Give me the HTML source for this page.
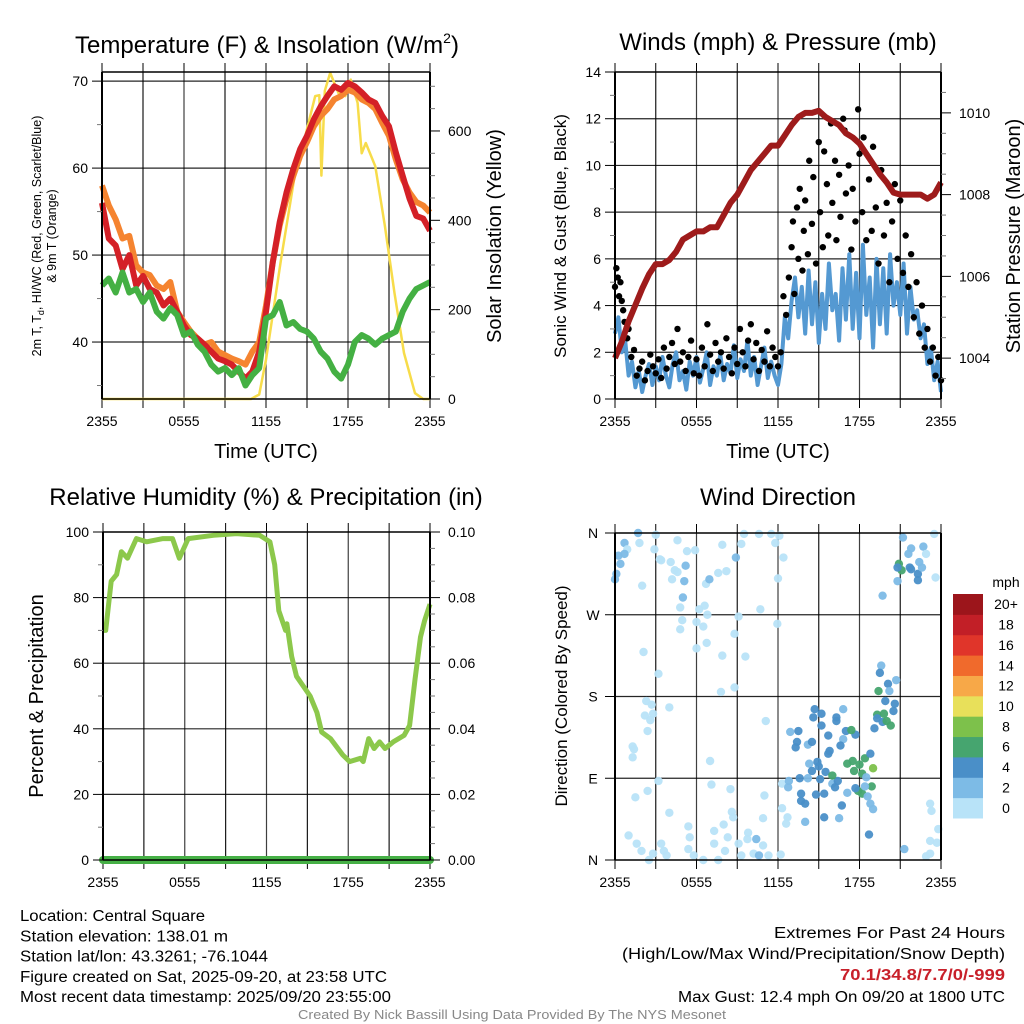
<!DOCTYPE html>
<html><head><meta charset="utf-8"><style>
html,body{margin:0;padding:0;background:#fff;}
svg{display:block;font-family:"Liberation Sans",sans-serif;}
</style></head><body>
<svg id="fig" width="1024" height="1024" viewBox="0 0 1024 1024" xmlns="http://www.w3.org/2000/svg"></svg>
<script>
// ---------- DATA ----------
const xTickLabels = ["2355","0555","1155","1755","2355"];
// Temperature panel (half-hourly, hours since 2355)
const tempRed = [56,51.9,51.1,48.4,50,46.5,47.6,46.1,45.7,44.2,45,43.5,41.9,40.8,40.4,39.7,38.9,38.1,37.8,37.4,36.6,35.8,36.6,38.9,43.5,49.2,53.8,57.2,59.9,62.2,63.7,65.6,67.1,68.3,69.4,69,69.8,69.4,68.7,67.9,67.5,66,64.8,61.8,59.1,56.5,54.5,54.2,52.8];
const tempOrange = [58,55.7,54.1,51.9,52.2,48.8,48,47.7,46.5,46.1,46.9,43.5,42.3,41.2,40.4,39.7,40,38.9,38.5,38.1,37.8,37.4,38.9,40,44.2,49.2,53.4,56.5,59.1,61.4,63,64.8,66,66.8,67.9,68.3,69,68.7,67.9,67.5,66.8,65.2,63.7,61,58.7,57.2,56.1,55.7,54.9];
const dewGreen = [46.5,47.3,45.7,48,45.7,46.1,44.6,45.7,43.5,42.7,43.9,43.1,40.8,41.2,39.7,38.9,37.4,36.6,37,36.2,37,35,36.2,37,42.7,43.1,44.6,41.9,42.3,41.5,41.2,40.4,38.9,38.1,36.6,35.8,37.4,40,40.8,40.4,39.7,40.4,40.8,41.2,43.5,45,46.1,46.5,46.9];
const solarHours = [0,10.9,11.5,12,13.1,14.1,14.8,15.6,15.9,16.05,16.3,16.7,17.3,17.8,18.2,18.7,19,19.3,20,20.7,21.4,22.1,22.9,23.5,24];
const solarWatts = [0,0,10,88,312,500,580,678,680,500,690,730,685,678,715,663,550,573,521,387,237,103,13,0,0];
// Winds panel
const windSpeed = [2.8,3.5,2.0,2.5,1.0,1.6,0.5,1.2,0.3,1.0,1.5,0.6,1.4,0.8,1.8,1.0,0.5,1.5,2.0,0.8,1.2,0.4,1.6,1.0,1.8,0.7,1.3,2.0,0.6,1.4,1.0,1.9,0.8,1.5,1.1,2.3,0.9,1.7,1.2,2.5,1.0,1.8,0.6,1.4,2.2,0.9,1.6,1.0,0.6,
1.5,3.5,2.6,4.2,5.2,3.5,4.8,2.8,5.5,3.2,5.0,2.4,4.5,3.0,5.8,3.8,4.5,2.5,5.6,3.4,6.2,3.0,5.4,2.6,6.6,3.6,5.2,2.2,6.0,3.2,5.6,2.8,6.2,4.0,5.0,3.6,5.8,2.8,4.8,3.4,3.8,2.6,3.2,1.5,2.2,0.8,1.6,0.3];
const gustHours = [0,0.1,0.2,0.3,0.4,0.5,0.6,0.7,0.9,1.0,1.2,1.4,1.6,1.8,2.0,2.2,2.4,2.6,2.8,3.0,3.2,3.4,3.6,3.8,4.0,4.2,4.4,4.6,4.8,5.0,5.2,5.4,5.6,5.8,6.0,6.2,6.4,6.6,6.8,7.0,7.2,7.4,7.6,7.8,8.0,8.2,8.4,8.6,8.8,9.0,9.2,9.4,9.6,9.8,10.0,10.2,10.4,10.6,10.8,11.0,11.2,11.4,11.6,11.8,12.0,12.2,12.4,12.6,12.8,13.0,13.1,13.2,13.4,13.5,13.6,13.8,13.9,14.0,14.2,14.3,14.5,14.6,14.8,15.0,15.1,15.3,15.4,15.6,15.7,15.9,16.0,16.2,16.3,16.5,16.6,16.8,16.9,17.0,17.2,17.4,17.5,17.7,17.9,18.0,18.2,18.3,18.5,18.7,18.9,19.0,19.2,19.4,19.6,19.8,20.0,20.2,20.4,20.6,20.8,21.0,21.2,21.4,21.6,21.8,22.0,22.2,22.4,22.6,22.8,23.0,23.2,23.4,23.6,23.8,24.0];
const gustSpeed = [4.8,5.6,5.2,4.4,5.0,4.2,3.8,3.3,2.6,3.0,1.8,2.1,1.0,1.3,1.6,0.8,1.2,1.9,1.4,1.1,1.7,0.9,2.2,1.3,1.8,2.4,1.5,3.0,1.6,2.0,1.2,1.8,2.5,1.1,1.7,1.0,2.2,1.4,3.2,1.9,1.2,2.4,1.6,2.0,1.3,2.6,1.8,1.1,2.2,1.5,3.0,2.0,1.4,2.5,3.2,1.7,2.4,1.2,2.1,1.6,2.9,1.4,2.2,1.8,1.4,2.0,4.4,3.6,5.2,6.5,7.6,4.5,8.2,6.0,9.0,5.5,7.2,8.5,6.2,10.2,7.5,9.5,5.8,11.0,8.0,6.5,10.6,9.2,7.0,11.8,8.4,10.2,6.8,9.6,7.8,12.0,11.5,8.8,10.0,6.4,9.0,7.6,12.4,10.5,8.0,11.2,6.8,9.4,7.2,10.8,8.2,5.8,9.8,7.0,8.4,5.0,7.6,9.2,6.0,8.5,5.4,7.0,4.8,6.2,3.5,5.0,2.8,4.0,2.2,3.0,1.6,2.2,1.0,1.8,0.8];
const pressure = [1004.0,1004.4,1004.9,1005.3,1005.7,1006.05,1006.3,1006.3,1006.4,1006.6,1006.9,1007.0,1007.1,1007.1,1007.2,1007.2,1007.5,1007.8,1008.0,1008.3,1008.6,1008.8,1009.0,1009.2,1009.2,1009.45,1009.7,1009.9,1010.0,1010.0,1010.05,1009.9,1009.8,1009.7,1009.5,1009.4,1009.25,1009.0,1008.75,1008.5,1008.3,1008.05,1008.0,1008.0,1008.0,1008.0,1007.9,1008.0,1008.3];
// RH panel
const rhHours = [0,0.2,0.6,1.0,1.35,1.8,2.45,3.2,4.4,5.1,5.6,6.25,8.1,9.8,11.5,12.25,12.6,12.9,13.4,13.5,13.85,14.2,15.2,15.7,16.05,16.7,17.6,18.1,18.9,19.1,19.5,19.9,20.3,20.7,21.3,22.1,22.5,22.9,23.3,23.6,24];
const rhValues = [70,70,85,87,94,92,98,97,98,98,92,98,99,99.5,99,97,90,76,70,72,62,56,50,45,39,37,32,30,31,30,37,34,36,34,36,38,41,55,68,73,78];
const precipHours = [0,24];
const precipValues = [0,0];
// Wind direction panel: [hours, degrees, mph]
const dirHours = [1.7,3.0,0.7,1.8,0.9,0.25,0.7,0.4,0.1,0,2.0,2.9,3.3,3.4,4.1,4.6,5.3,5.9,5.2,4.4,4.6,4.2,5.1,5.0,4.8,4.95,4.8,6.2,6.6,6.8,6.0,6.5,6.7,6.95,7.6,8.2,7.9,8.9,9.3,9.5,10.6,11.5,11.8,12.1,12.4,12.0,10.7,9.1,11.95,8.8,6.75,6.0,7.9,9.6,2.1,3.2,7.8,8.8,
2.3,2.7,4.0,2.2,2.8,2.6,2.4,1.3,1.4,1.3,11.1,7.0,
3.2,2.4,1.5,4.0,7.1,8.5,11.0,8.6,8.7,10.9,5.4,1.0,1.6,1.95,2.5,2.8,3.4,3.6,3.8,5.5,5.4,5.8,6.5,7.3,7.3,8.0,8.3,7.6,8.1,9.1,9.8,9.75,10.4,10.2,10.9,11.3,9.3,10.6,12.2,12.3,12.8,12.75,12.3,12.7,12.6,14.0,
12.9,13.5,13.4,13.3,14.2,14.5,14.7,14.6,15.2,15.2,13.6,14.2,14.3,14.9,15.0,14.5,15.1,15.5,13.7,13.7,14.0,14.8,15.4,15.7,16.3,16.3,16.8,16.8,16.6,15.7,15.8,17.0,17.7,17.4,16.0,16.2,16.4,16.0,17.1,17.5,17.6,18.0,18.2,18.4,18.8,18.5,19.0,18.9,17.9,18.2,17.7,17.1,18.4,18.6,18.8,19.0,16.7,15.4,16.5,18.7,
19.6,19.5,20.1,20.7,19.4,20.2,19.9,20.6,20.5,19.3,19.8,19.3,19.7,20.0,20.3,19.1,
21.2,21.8,21.6,20.9,21.1,20.8,21.7,21.8,22.3,22.3,22.4,22.6,22.7,22.9,20.8,19.7,23.5,23.6,
23.2,23.3,23.8,23.2,23.7,23.2,22.9,21.3];
const dirDegrees = [360,358,349,349,342,335,337,326,315,309,302,342,331,330,328,352,340,341,324,319,317,309,307,289,278,264,254,276,280,270,262,257,304,309,316,318,347,333,348,359,359,359,349,357,333,310,276,268,260,249,239,233,225,224,229,205,185,190,
175,171,168,159,161,154,142,125,122,113,153,109,
87,76,69,52,83,78,71,53,47,46,37,27,18,10,0,7,18,10,5,25,12,5,0,32,18,39,25,0,10,18,30,23,23,7,16,5,5,5,6,84,87,80,57,47,40,42,
141,142,130,124,127,130,166,157,161,148,90,90,106,108,103,98,89,97,73,65,62,72,73,137,157,153,166,133,126,117,120,142,138,143,84,80,87,93,106,109,98,105,95,112,117,91,101,81,76,73,79,74,81,70,62,56,60,47,46,28,
214,206,194,198,186,186,175,172,164,160,161,156,152,153,148,145,
355,343,337,326,319,322,322,320,315,308,328,322,345,337,307,291,359,311,
62,54,34,21,19,7,4,12];
const dirSpeed = [3,1,3,1,1,3,3,3,3,3,1,1,1,1,1,1,1,1,3,1,1,1,3,3,1,1,1,1,1,1,1,1,1,3,1,1,1,3,1,1,1,1,1,1,1,1,1,1,1,1,1,1,1,1,1,1,1,1,
1,1,1,1,1,1,1,1,1,1,1,1,
1,1,1,1,1,1,1,1,1,1,1,1,1,1,1,1,1,1,1,1,1,1,1,1,1,1,1,1,1,1,1,1,3,1,1,1,1,3,1,1,3,3,1,1,1,3,
3,5,5,5,3,5,5,5,5,5,5,3,3,5,5,5,5,5,5,5,5,5,5,5,5,5,3,3,5,5,5,5,5,7,3,5,5,7,7,7,7,7,7,7,5,3,8,7,7,7,5,3,3,3,3,3,5,5,3,5,
3,5,5,3,7,3,5,5,5,7,7,5,5,7,7,5,
3,3,3,7,7,5,5,5,5,5,3,3,3,1,3,3,1,1,
1,1,1,1,1,1,1,3];
const cbarLabels = ["0","2","4","6","8","10","12","14","16","18","20+"];
const cbarColors = ["#b8e3f8","#7dbbe6","#4a8fc8","#46a56f","#7dc14b","#e8e05a","#f7a848","#f06a2c","#e0352a","#c21f27","#9c151b"];

// ---------- DRAWING ----------
const NS="http://www.w3.org/2000/svg";
const svg=document.getElementById('fig');
function mk(tag,attrs,parent){const e=document.createElementNS(NS,tag);for(const k in attrs)e.setAttribute(k,attrs[k]);(parent||svg).appendChild(e);return e;}
function txt(s,attrs,parent){const e=mk('text',attrs,parent);e.textContent=s;return e;}
function pathFrom(xs,ys,fx,fy){let d='';for(let i=0;i<xs.length;i++){d+=(i?'L':'M')+fx(xs[i]).toFixed(1)+','+fy(ys[i]).toFixed(1);}return d;}
function idxHours(arr,step){return arr.map((_,i)=>i*step);}

function frame(g,L,R,T,B,hLines,vCount){
  for(let i=1;i<vCount;i++){const x=L+(R-L)*i/vCount;
    const l=mk('line',{x1:x,y1:T,x2:x,y2:B,stroke:'#000','stroke-width':1.2,opacity:i%2?0.9:0.75},g);
    
    
    mk('line',{x1:x,y1:B,x2:x,y2:B+9,stroke:'#000','stroke-width':1},g);
    mk('line',{x1:x,y1:T,x2:x,y2:T-9,stroke:'#000','stroke-width':1},g);
  }
  mk('line',{x1:L,y1:B,x2:L,y2:B+9,stroke:'#000','stroke-width':1},g);
  mk('line',{x1:R,y1:B,x2:R,y2:B+9,stroke:'#000','stroke-width':1},g);
  mk('line',{x1:L,y1:T,x2:L,y2:T-9,stroke:'#000','stroke-width':1},g);
  mk('line',{x1:R,y1:T,x2:R,y2:T-9,stroke:'#000','stroke-width':1},g);
  hLines.forEach(y=>{const l=mk('line',{x1:L,y1:y,x2:R,y2:y,stroke:'#000','stroke-width':1.2,opacity:0.85},g);
    
    });
}
function border(g,L,R,T,B){
  mk('line',{x1:L,y1:T,x2:L,y2:B,stroke:'#000','stroke-width':2},g);
  mk('line',{x1:R,y1:T,x2:R,y2:B,stroke:'#000','stroke-width':2},g);
  mk('line',{x1:L,y1:T,x2:R,y2:T,stroke:'#000','stroke-width':1.5},g);
  mk('line',{x1:L,y1:B,x2:R,y2:B,stroke:'#000','stroke-width':1.5},g);
}
function xTicks(g,L,R,B){
  xTickLabels.forEach((s,i)=>{const t=txt(s,{x:L+(R-L)*i/4,y:B+27,'font-size':14,'text-anchor':'middle'},g);
    
    });
}
function yTicks(g,x,vals,fy,fmt,anchor,dx,minorVals){
  vals.forEach(v=>{const y=fy(v);
    mk('line',{x1:x,y1:y,x2:x+(anchor==='end'?-10:10),y2:y,stroke:'#000','stroke-width':1},g);
    const t=txt(fmt(v),{x:x+dx,y:y+5,'font-size':14,'text-anchor':anchor},g);
    
    });
  (minorVals||[]).forEach(v=>{const y=fy(v);mk('line',{x1:x,y1:y,x2:x+(anchor==='end'?-5:5),y2:y,stroke:'#777','stroke-width':1},g);});
}
function title(s,x,y){const t=txt(s,{x:x,y:y,'font-size':24,'text-anchor':'middle'});
  
  return t;}

// ===== Panel 1: Temperature =====
(function(){
  const L=102,R=430,T=72,B=399;
  const g=mk('g',{});
  
  
  const fx=h=>L+(R-L)*h/24;
  const fy=v=>B-(v-33.45)*(B-T)/(71.05-33.45);
  const fs=w=>B-w*(B-T)/732;
  frame(g,L,R,T,B,[fy(40),fy(50),fy(60),fy(70)],8);
  const hrs=idxHours(tempRed,0.5);
  const sl=mk('path',{d:pathFrom(solarHours,solarWatts,fx,fs),fill:'none',stroke:'#f7dc4a','stroke-width':2.5,'stroke-linejoin':'round'},g);
  
  
  const og=mk('path',{d:pathFrom(hrs,tempOrange,fx,fy),fill:'none',stroke:'#f58430','stroke-width':6,'stroke-linejoin':'round'},g);
  
  
  const rd=mk('path',{d:pathFrom(hrs,tempRed,fx,fy),fill:'none',stroke:'#d42027','stroke-width':6,'stroke-linejoin':'round'},g);
  
  
  const gr=mk('path',{d:pathFrom(hrs,dewGreen,fx,fy),fill:'none',stroke:'#44b043','stroke-width':6,'stroke-linejoin':'round'},g);
  
  
  border(g,L,R,T,B);
  yTicks(g,L,[40,50,60,70],fy,v=>String(v),'end',-14,[35,45,55,65]);
  yTicks(g,R,[0,200,400,600],fs,v=>String(v),'start',18,[50,100,150,250,300,350,450,500,550,650,700]);
  xTicks(g,L,R,B);
  const xt=txt('Time (UTC)',{x:(L+R)/2,y:458,'font-size':20,'text-anchor':'middle'},g);
  
  
  const yl=txt('',{transform:'translate(41,236) rotate(-90)','font-size':12.5,'text-anchor':'middle'},g);
  yl.innerHTML='2m T, T<tspan font-size="9" dy="3">d</tspan><tspan dy="-3">, HI/WC (Red, Green, Scarlet/Blue)</tspan>';
  
  
  const yl2=txt('& 9m T (Orange)',{transform:'translate(56,236) rotate(-90)','font-size':12.5,'text-anchor':'middle'},g);
  
  
  const yr=txt('Solar Insolation (Yellow)',{transform:'translate(501,236) rotate(-90)','font-size':20,'text-anchor':'middle'},g);
  
  
  const tt=title('',267,53);
  tt.innerHTML='Temperature (F) &amp; Insolation (W/m<tspan font-size="14" dy="-10">2</tspan><tspan dy="10">)</tspan>';
})();

// ===== Panel 2: Winds =====
(function(){
  const L=615,R=941,T=72,B=399;
  const g=mk('g',{});
  
  
  const fx=h=>L+(R-L)*h/24;
  const fy=v=>B-v*(B-T)/14;
  const fp=p=>B-(p-1003)*(B-T)/8;
  frame(g,L,R,T,B,[2,4,6,8,10,12].map(fy),8);
  const ws=mk('path',{d:pathFrom(idxHours(windSpeed,0.25),windSpeed,fx,fy),fill:'none',stroke:'#5499d2','stroke-width':4,'stroke-linejoin':'round'},g);
  
  
  gustHours.forEach((h,i)=>{const c=mk('circle',{cx:fx(h),cy:fy(gustSpeed[i]),r:3.2,fill:'#000'},g);
    
    });
  const pr=mk('path',{d:pathFrom(idxHours(pressure,0.5),pressure,fx,fp),fill:'none',stroke:'#9e1b1b','stroke-width':6,'stroke-linejoin':'round'},g);
  
  
  border(g,L,R,T,B);
  yTicks(g,L,[0,2,4,6,8,10,12,14],fy,v=>String(v),'end',-14,[1,3,5,7,9,11,13]);
  yTicks(g,R,[1004,1006,1008,1010],fp,v=>String(v),'start',18,[1003.5,1004.5,1005,1005.5,1006.5,1007,1007.5,1008.5,1009,1009.5,1010.5]);
  xTicks(g,L,R,B);
  const xt=txt('Time (UTC)',{x:(L+R)/2,y:458,'font-size':20,'text-anchor':'middle'},g);
  
  
  const yl=txt('Sonic Wind & Gust (Blue, Black)',{transform:'translate(566,236) rotate(-90)','font-size':17,'text-anchor':'middle'},g);
  
  
  const yr=txt('Station Pressure (Maroon)',{transform:'translate(1020,236) rotate(-90)','font-size':20,'text-anchor':'middle'},g);
  
  
  title('Winds (mph) & Pressure (mb)',778,50);
})();

// ===== Panel 3: RH =====
(function(){
  const L=103,R=430,T=532,B=860;
  const g=mk('g',{});
  
  
  const fx=h=>L+(R-L)*h/24;
  const fy=v=>B-v*(B-T)/100;
  const fq=v=>B-v*(B-T)/0.1;
  frame(g,L,R,T,B,[20,40,60,80].map(fy),8);
  const rh=mk('path',{d:pathFrom(rhHours,rhValues,fx,fy),fill:'none',stroke:'#8cc84b','stroke-width':5,'stroke-linejoin':'round'},g);
  
  
  const pp=mk('path',{d:pathFrom(precipHours,precipValues,fx,fq),fill:'none',stroke:'#46b046','stroke-width':8,'stroke-linecap':'round'},g);
  
  
  border(g,L,R,T,B);
  yTicks(g,L,[0,20,40,60,80,100],fy,v=>String(v),'end',-14,[10,30,50,70,90]);
  yTicks(g,R,[0,0.02,0.04,0.06,0.08,0.10],fq,v=>v.toFixed(2),'start',18,[0.005,0.01,0.015,0.025,0.03,0.035,0.045,0.05,0.055,0.065,0.07,0.075,0.085,0.09,0.095]);
  xTicks(g,L,R,B);
  const yl=txt('Percent & Precipitation',{transform:'translate(43,696) rotate(-90)','font-size':20,'text-anchor':'middle'},g);
  
  
  title('Relative Humidity (%) & Precipitation (in)',266,505);
})();

// ===== Panel 4: Wind Direction =====
(function(){
  const L=615,R=941,T=533,B=860;
  const g=mk('g',{});
  
  
  const fx=h=>L+(R-L)*h/24;
  const fy=d=>B-d*(B-T)/360;
  frame(g,L,R,T,B,[90,180,270].map(fy),8);
  dirHours.forEach((h,i)=>{const c=mk('circle',{cx:fx(h),cy:fy(dirDegrees[i]),r:4.2,fill:cbarColors[Math.min(10,Math.floor(dirSpeed[i]/2))],opacity:0.95},g);
    
    });
  border(g,L,R,T,B);
  const lbl=['N','E','S','W','N'];
  [0,90,180,270,360].forEach((d,i)=>{const y=fy(d);
    mk('line',{x1:L,y1:y,x2:L-10,y2:y,stroke:'#000','stroke-width':1},g);
    const t=txt(lbl[i],{x:L-22,y:y+5,'font-size':14,'text-anchor':'middle'},g);
    
    });
  xTicks(g,L,R,B);
  const yl=txt('Direction (Colored By Speed)',{transform:'translate(567,696) rotate(-90)','font-size':17,'text-anchor':'middle'},g);
  
  
  title('Wind Direction',778,505);
  const cb=mk('g',{},g);
  
  
  const top=594,bot=818,h=(bot-top)/11;
  cbarColors.forEach((c,i)=>{const y=bot-(i+1)*h;
    const r=mk('rect',{x:953,y:y,width:30,height:h+0.5,fill:c},cb);
    
    
    const t=txt(cbarLabels[i],{x:1006,y:y+h/2+5,'font-size':14,'text-anchor':'middle'},cb);
    
    });
  const u=txt('mph',{x:1006,y:587,'font-size':14,'text-anchor':'middle'},cb);
  
  
})();

// ===== Footer =====
const leftLines=['Location: Central Square','Station elevation: 138.01 m','Station lat/lon: 43.3261; -76.1044','Figure created on Sat, 2025-09-20, at 23:58 UTC','Most recent data timestamp: 2025/09/20 23:55:00'];
const leftW=[185,208,248,367,371];
leftLines.forEach((s,i)=>{const t=txt(s,{x:20,y:921+i*20.3,'font-size':15.5,textLength:leftW[i],lengthAdjust:'spacingAndGlyphs'});
  
  });
const rightLines=[['Extremes For Past 24 Hours',231,'#000',938,'normal'],['(High/Low/Max Wind/Precipitation/Snow Depth)',383,'#000',959,'normal'],['70.1/34.8/7.7/0/-999',165,'#c8202a',980,'bold'],['Max Gust: 12.4 mph On 09/20 at 1800 UTC',327,'#000',1002,'normal']];
rightLines.forEach(r=>{const t=txt(r[0],{x:1005,y:r[3],'font-size':15.5,'text-anchor':'end',fill:r[2],'font-weight':r[4],textLength:r[1],lengthAdjust:'spacingAndGlyphs'});
  
  });
const cr=txt('Created By Nick Bassill Using Data Provided By The NYS Mesonet',{x:512,y:1019,'font-size':12.5,'text-anchor':'middle',fill:'#888',textLength:428,lengthAdjust:'spacingAndGlyphs'});


</script>
</body></html>
